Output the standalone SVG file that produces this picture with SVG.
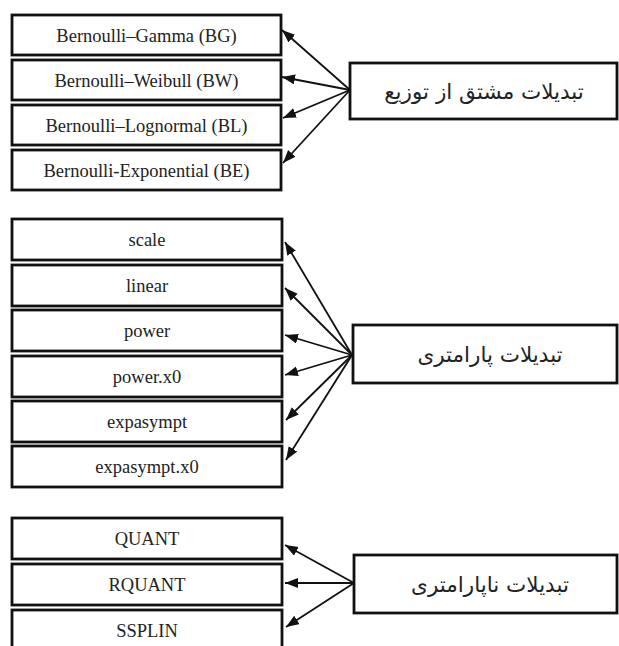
<svg xmlns="http://www.w3.org/2000/svg" width="619" height="646" viewBox="0 0 619 646">
<style>
.box{fill:#fff;stroke:#111;stroke-width:2.8}
.lt{font-family:"Liberation Serif","Times New Roman",serif;font-size:18.5px;fill:#222;text-anchor:middle}
.rt{font-family:"DejaVu Sans","Noto Sans",sans-serif;font-size:21.5px;fill:#222;text-anchor:middle}
.c line{stroke:#111;stroke-width:1.8;marker-end:url(#ah)}
</style>
<defs>
<marker id="ah" markerUnits="userSpaceOnUse" markerWidth="14" markerHeight="11" refX="13" refY="5" orient="auto">
<path d="M0,0 L13,5 L0,10 z" fill="#111"/>
</marker>
</defs>
<rect width="619" height="646" fill="#fff"/>
<g id="bg"><rect class="box" x="12" y="15" width="269" height="40"/><text class="lt" x="146.5" y="41.5">Bernoulli–Gamma (BG)</text></g>
<g id="bw"><rect class="box" x="12" y="60" width="269" height="40"/><text class="lt" x="146.5" y="86.5">Bernoulli–Weibull (BW)</text></g>
<g id="bl"><rect class="box" x="12" y="105" width="269" height="40"/><text class="lt" x="146.5" y="131.5">Bernoulli–Lognormal (BL)</text></g>
<g id="be"><rect class="box" x="12" y="150" width="269" height="40"/><text class="lt" x="146.5" y="176.5">Bernoulli-Exponential (BE)</text></g>
<g id="dist"><rect class="box" x="350" y="63" width="267" height="56"/><text class="rt" x="484" y="98.5" direction="rtl">تبدیلات مشتق از توزیع</text></g>

<g id="scale"><rect class="box" x="12" y="219" width="270" height="41"/><text class="lt" x="147" y="246">scale</text></g>
<g id="linear"><rect class="box" x="12" y="265" width="270" height="41"/><text class="lt" x="147" y="292">linear</text></g>
<g id="power"><rect class="box" x="12" y="310" width="270" height="41"/><text class="lt" x="147" y="337">power</text></g>
<g id="powerx0"><rect class="box" x="12" y="356" width="270" height="41"/><text class="lt" x="147" y="383">power.x0</text></g>
<g id="expasympt"><rect class="box" x="12" y="401" width="270" height="41"/><text class="lt" x="147" y="428">expasympt</text></g>
<g id="expasymptx0"><rect class="box" x="12" y="446" width="270" height="41"/><text class="lt" x="147" y="473">expasympt.x0</text></g>
<g id="param"><rect class="box" x="353" y="325" width="264" height="58"/><text class="rt" x="490" y="361.5" direction="rtl">تبدیلات پارامتری</text></g>

<g id="quant"><rect class="box" x="12" y="518" width="270" height="41"/><text class="lt" x="147" y="545">QUANT</text></g>
<g id="rquant"><rect class="box" x="12" y="564" width="270" height="41"/><text class="lt" x="147" y="591">RQUANT</text></g>
<g id="ssplin"><rect class="box" x="12" y="610" width="270" height="41"/><text class="lt" x="147" y="637">SSPLIN</text></g>
<g id="nonparam"><rect class="box" x="354" y="555" width="263" height="58"/><text class="rt" x="490" y="591.5" direction="rtl">تبدیلات ناپارامتری</text></g>

<g id="connectors" class="c">
<line x1="350" y1="90" x2="282" y2="30"/>
<line x1="350" y1="90" x2="282" y2="77"/>
<line x1="350" y1="90" x2="283" y2="118"/>
<line x1="350" y1="90" x2="283" y2="163"/>
<line x1="352" y1="355" x2="285" y2="242"/>
<line x1="352" y1="355" x2="285" y2="288"/>
<line x1="352" y1="355" x2="285" y2="335"/>
<line x1="352" y1="355" x2="285" y2="375"/>
<line x1="352" y1="355" x2="286" y2="420"/>
<line x1="352" y1="355" x2="286" y2="460"/>
<line x1="354" y1="583" x2="285" y2="545"/>
<line x1="354" y1="583" x2="285" y2="583"/>
<line x1="354" y1="583" x2="286" y2="627"/>
</g>
</svg>
